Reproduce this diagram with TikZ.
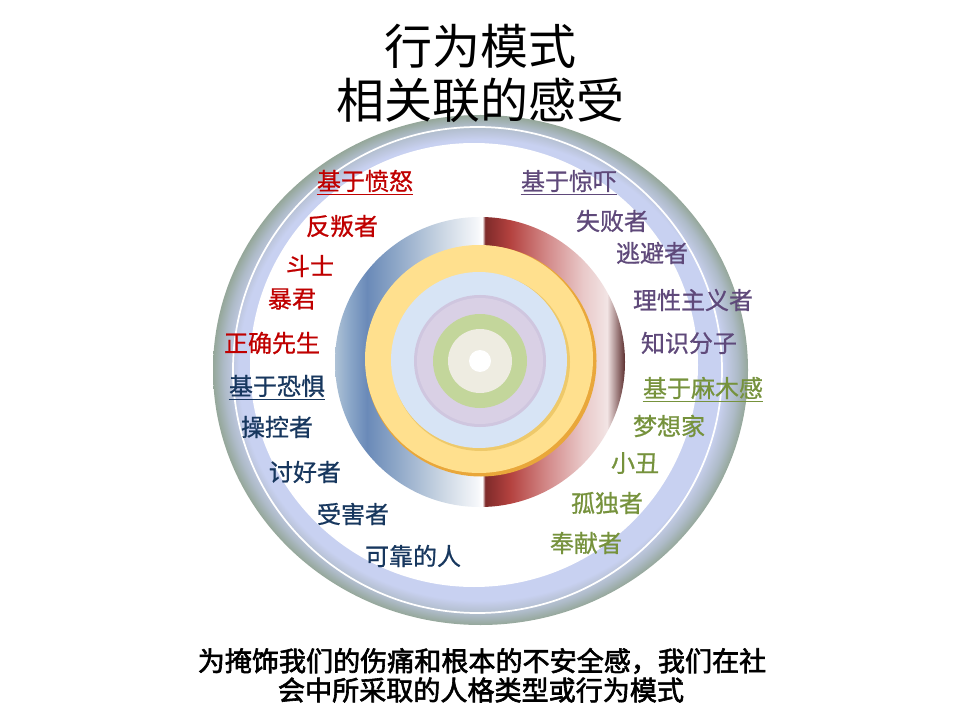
\documentclass[tikz,border=0pt]{standalone}
\usepackage{fontspec}
\setmainfont{Noto Sans CJK SC}
\newfontfamily\footfont[FakeBold=2.2]{Noto Sans CJK SC}
\newfontfamily\labfont[FakeBold=0.8]{Noto Sans CJK SC}
\definecolor{angerred}{HTML}{C00000}
\definecolor{fearblue}{HTML}{17375E}
\definecolor{shockpurple}{HTML}{5F497A}
\definecolor{numbgreen}{HTML}{76923C}
\definecolor{lav}{HTML}{C8D1F1}
\definecolor{lavb}{HTML}{C1CAE4}
\definecolor{lavc}{HTML}{AEBBC8}
\definecolor{grayg}{HTML}{95A79A}
\definecolor{bA}{HTML}{AEC2D6}
\definecolor{bB}{HTML}{8AA6C8}
\definecolor{bC}{HTML}{6A8AB8}
\definecolor{bD}{HTML}{8FA8C8}
\definecolor{bE}{HTML}{C8D4E2}
\definecolor{bF}{HTML}{F5F7FA}
\definecolor{rA}{HTML}{7E2A2A}
\definecolor{rB}{HTML}{B4423F}
\definecolor{rC}{HTML}{D38A8A}
\definecolor{rD}{HTML}{E9C9C9}
\definecolor{rE}{HTML}{F2E4E4}
\definecolor{rF}{HTML}{5C2E2E}
\definecolor{yel}{HTML}{FFE08E}
\definecolor{orng}{HTML}{E9A73A}
\definecolor{ltblue}{HTML}{D7E4F5}
\definecolor{gold}{HTML}{EEC96A}
\definecolor{lilac}{HTML}{D9D0E5}
\definecolor{lilacE}{HTML}{CFC6DF}
\definecolor{grn}{HTML}{C3D69B}
\definecolor{cream}{HTML}{EEECE1}
\pgfdeclareradialshading{ringshade}{\pgfpoint{0bp}{0bp}}{color(0bp)=(lav); color(22.6bp)=(lav); color(23.0bp)=(lavb); color(24.0bp)=(lavc); color(25bp)=(grayg); color(50bp)=(grayg)}
\pgfdeclarehorizontalshading{diskshade}{100bp}{color(0bp)=(bA); color(25bp)=(bA); color(27.6bp)=(bB); color(30.5bp)=(bC); color(35.7bp)=(bD); color(43.1bp)=(bE); color(49.5bp)=(bF); color(50.4bp)=(white); color(50.9bp)=(rA); color(55.2bp)=(rB); color(61.6bp)=(rC); color(67.8bp)=(rD); color(71.9bp)=(rE); color(75bp)=(rF); color(100bp)=(rF)}
\tikzset{
  lab/.style={inner sep=0pt, font=\labfont\fontsize{18}{20}\selectfont},
  ttl/.style={inner sep=0pt, font=\fontsize{36}{40}\selectfont, text=black},
  foot/.style={inner sep=0pt, font=\footfont\fontsize{20.3}{24}\selectfont, text=black},
  uline/.style={line width=1.1pt}
}
\begin{document}
\begin{tikzpicture}[x=0.75pt, y=-0.75pt]
\useasboundingbox (0,0) rectangle (960,720);
\fill[white] (0,0) rectangle (960,720);
% outer ring
\shade[shading=ringshade] (480.5,370) ellipse [x radius=267.5, y radius=255];
\draw[white, line width=1.3pt] (477.5,370) ellipse [x radius=244.5, y radius=243];
\fill[white] (474,365) ellipse [x radius=224, y radius=222];
% inner disk
\shade[shading=diskshade] (480,362) circle [radius=145];
\fill[orng] (481,361) circle [radius=115.5];
\fill[yel] (479,359) circle [radius=114];
\fill[gold] (481,362) circle [radius=89];
\fill[ltblue] (479,360) circle [radius=88];
\fill[lilacE] (480,361) circle [radius=66];
\fill[lilac] (480,361) circle [radius=63];
\fill[grn] (480,361) circle [radius=47];
\fill[cream] (480,361) circle [radius=32];
\fill[white] (480,361) circle [radius=11];
% title
\node[ttl] (t1) at (480,46) {行为模式};
\node[ttl] (t2) at (480,100) {相关联的感受};
% anger
\node[lab, text=angerred] (h1) at (365,181) {基于愤怒};
\node[lab, text=angerred] (a1) at (342,226) {反叛者};
\node[lab, text=angerred] (a2) at (310,266) {斗士};
\node[lab, text=angerred] (a3) at (292,299) {暴君};
\node[lab, text=angerred] (a4) at (272,343) {正确先生};
% fear
\node[lab, text=fearblue] (h2) at (277,386) {基于恐惧};
\node[lab, text=fearblue] (f1) at (277,427) {操控者};
\node[lab, text=fearblue] (f2) at (305,472) {讨好者};
\node[lab, text=fearblue] (f3) at (353,514) {受害者};
\node[lab, text=fearblue] (f4) at (413,556) {可靠的人};
% shock
\node[lab, text=shockpurple] (h3) at (569,181) {基于惊吓};
\node[lab, text=shockpurple] (s1) at (612,221) {失败者};
\node[lab, text=shockpurple] (s2) at (652,253) {逃避者};
\node[lab, text=shockpurple] (s3) at (693,300) {理性主义者};
\node[lab, text=shockpurple] (s4) at (689,343) {知识分子};
% numb
\node[lab, text=numbgreen] (h4) at (703,388) {基于麻木感};
\node[lab, text=numbgreen] (n1) at (669,426) {梦想家};
\node[lab, text=numbgreen] (n2) at (635,463) {小丑};
\node[lab, text=numbgreen] (n3) at (607,503) {孤独者};
\node[lab, text=numbgreen] (n4) at (586,543) {奉献者};
% underlines
\draw[uline, angerred] ([yshift=-1.5pt]h1.south west) -- ([yshift=-1.5pt]h1.south east);
\draw[uline, fearblue] ([yshift=-1.5pt]h2.south west) -- ([yshift=-1.5pt]h2.south east);
\draw[uline, shockpurple] ([yshift=-1.5pt]h3.south west) -- ([yshift=-1.5pt]h3.south east);
\draw[uline, numbgreen] ([yshift=-1.5pt]h4.south west) -- ([yshift=-1.5pt]h4.south east);
% footer
\node[foot] (b1) at (482,661) {为掩饰我们的伤痛和根本的不安全感，我们在社};
\node[foot] (b2) at (481,690) {会中所采取的人格类型或行为模式};
\end{tikzpicture}
\end{document}
